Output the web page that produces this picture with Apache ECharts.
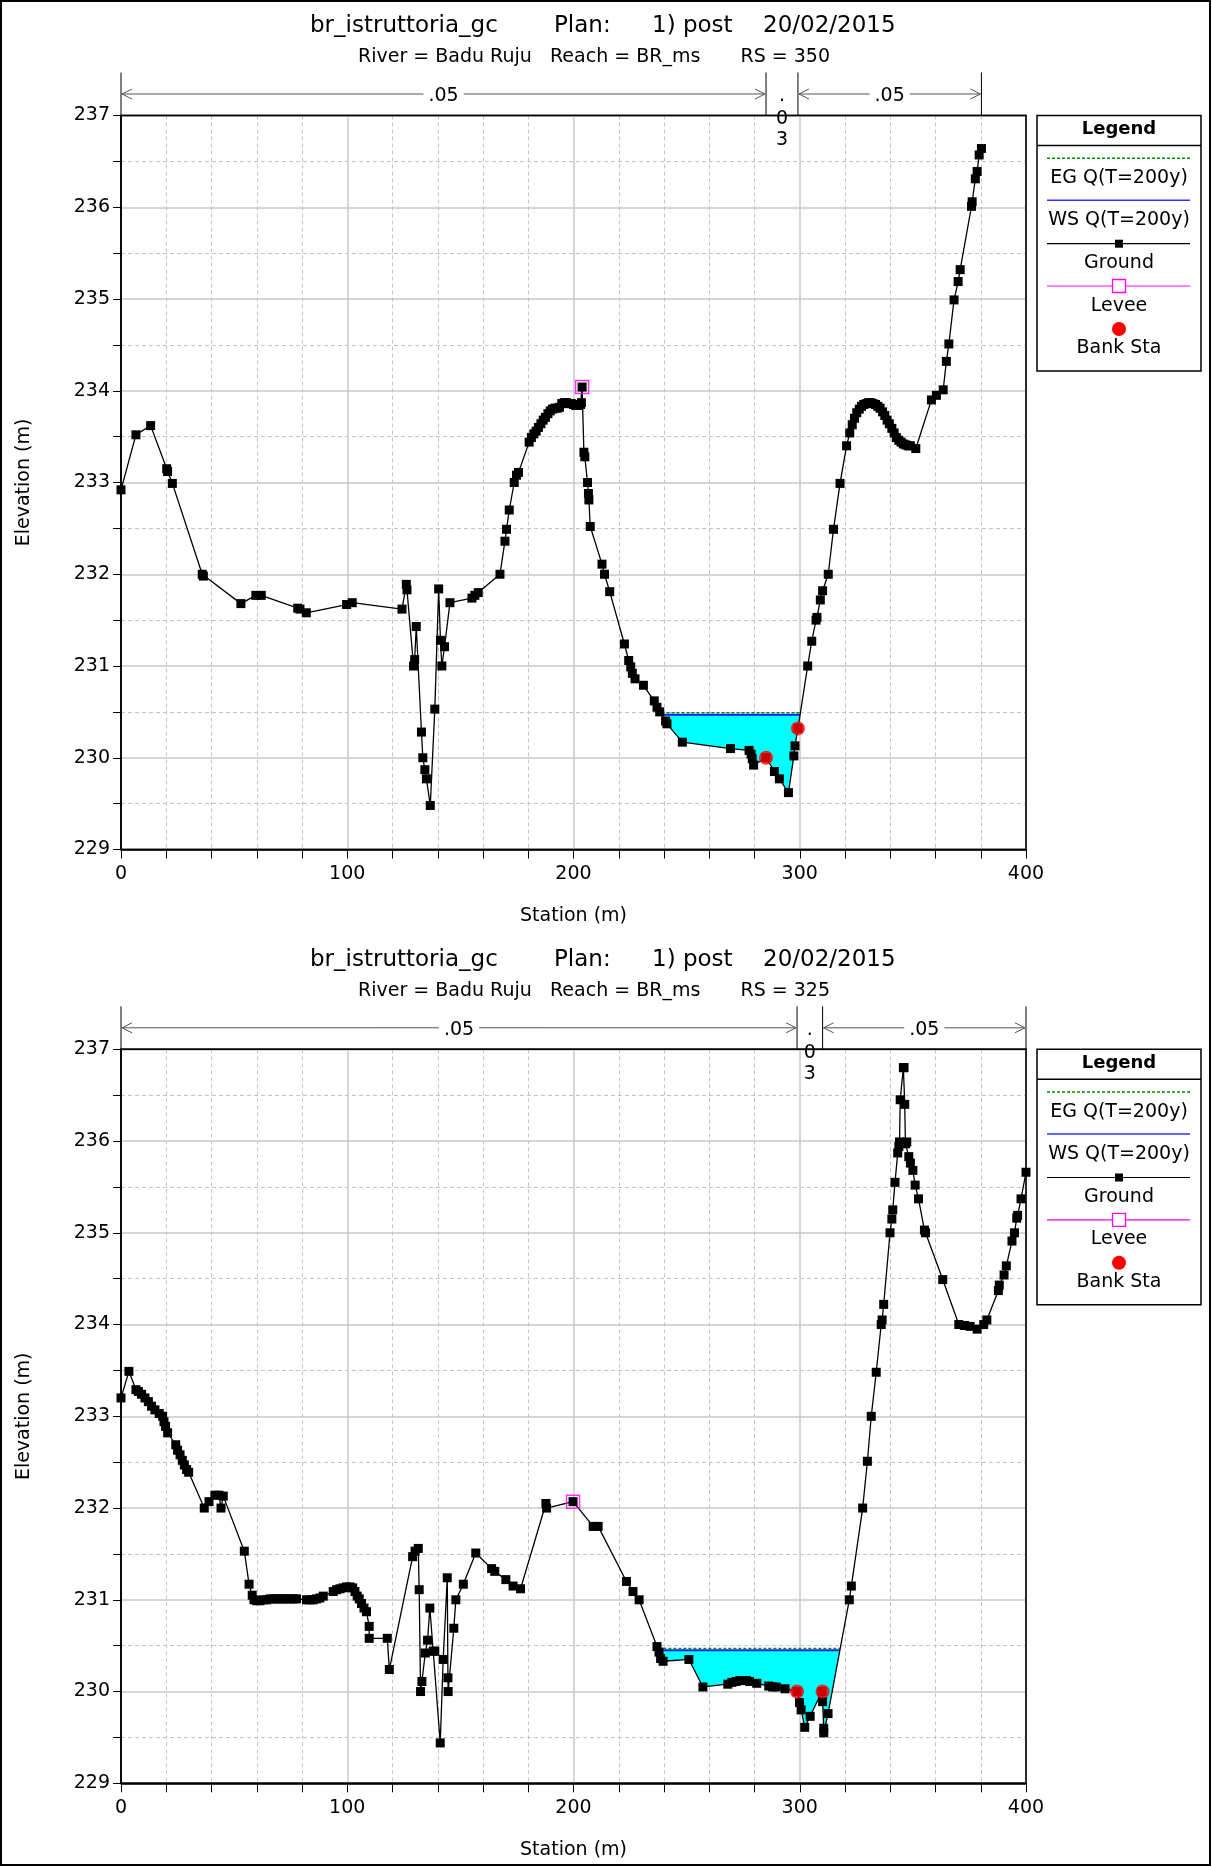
<!DOCTYPE html>
<html>
<head>
<meta charset="utf-8">
<script src="https://cdn.jsdelivr.net/npm/echarts@6/dist/echarts.min.js"></script>
<style>
html, body { margin: 0; padding: 0; background: #fff; }
#chart { width: 1212px; height: 1867px; }
</style>
</head>
<body>
<div id="chart"></div>
<script>
// ---------- Cross section RS 350 ----------
const rs350Station = [
  0.0, 6.6, 13.1, 20.2, 20.6, 22.7, 35.9, 36.4, 53.0, 59.6, 62.0, 78.1, 79.1, 81.9, 99.7, 102.2,
  124.2, 126.1, 126.4, 129.3, 129.8, 130.5, 132.8, 133.4, 134.3, 135.0, 136.7, 138.7, 140.4, 141.2,
  141.8, 143.0, 145.4, 155.1, 156.4, 157.9, 167.5, 169.7, 170.4, 171.6, 173.8, 174.8, 175.7,
  180.4, 181.4, 182.5, 183.5, 184.5, 185.6, 186.6, 187.6, 188.7, 189.7, 190.7, 191.8, 192.8, 193.8,
  194.8, 195.9, 196.9, 197.9, 199.0, 200.0, 201.0, 202.0, 203.1, 203.5, 203.8,
  204.6, 205.0, 206.2, 206.6, 206.8, 207.4, 212.6, 213.7, 216.0, 222.5, 224.4, 225.3, 226.0, 227.2,
  230.9, 235.7, 236.9, 238.1, 240.7, 241.3, 248.1, 269.4, 277.6, 278.5, 279.0, 279.6, 285.1, 288.8,
  291.0, 295.0, 297.4, 297.9, 299.2, 303.5, 305.3, 307.2, 307.6, 309.1, 310.1, 312.6, 314.9, 317.8,
  320.7, 322.1, 323.2, 324.2, 325.2, 326.3, 327.3, 328.3, 329.4, 330.4, 331.4, 332.4, 333.5, 334.5,
  335.5, 336.6, 337.6, 338.6, 339.6, 340.7, 341.7, 342.7, 343.8, 344.8, 345.8, 346.9, 347.9, 348.9,
  351.3, 358.2, 360.4, 363.4, 364.8, 365.9, 368.2, 370.0, 370.9, 375.9, 376.2, 377.6, 378.4, 379.3, 380.3
];
const rs350Elev = [
  232.92, 233.52, 233.62, 233.15, 233.12, 232.99, 232.00, 231.98, 231.68, 231.77, 231.77, 231.63, 231.62, 231.58, 231.67, 231.69,
  231.62, 231.89, 231.83, 231.00, 231.07, 231.43, 230.28, 230.00, 229.87, 229.77, 229.48, 230.53, 231.84, 231.28,
  231.00, 231.21, 231.69, 231.74, 231.77, 231.80, 232.00, 232.36, 232.49, 232.70, 233.00, 233.08, 233.11,
  233.44, 233.49, 233.53, 233.56, 233.60, 233.64, 233.68, 233.71, 233.75, 233.78, 233.80, 233.81, 233.81, 233.82,
  233.86, 233.87, 233.87, 233.86, 233.86, 233.85, 233.84, 233.84, 233.85, 233.87, 234.04,
  233.33, 233.28, 233.00, 232.88, 232.81, 232.52, 232.11, 232.00, 231.81, 231.24, 231.06, 230.99, 230.92, 230.86,
  230.79, 230.62, 230.55, 230.50, 230.40, 230.37, 230.17, 230.10, 230.08, 230.04, 229.99, 229.92, 230.00, 229.85,
  229.77, 229.62, 230.02, 230.13, 230.32, 231.00, 231.27, 231.50, 231.53, 231.72, 231.82, 232.00, 232.49, 232.99,
  233.40, 233.54, 233.63, 233.70, 233.76, 233.80, 233.83, 233.85, 233.86, 233.87, 233.87, 233.86, 233.85, 233.83,
  233.81, 233.77, 233.73, 233.68, 233.64, 233.59, 233.54, 233.49, 233.46, 233.44, 233.42, 233.41, 233.40, 233.40,
  233.37, 233.90, 233.95, 234.01, 234.32, 234.51, 234.99, 235.19, 235.32, 236.01, 236.06, 236.31, 236.39, 236.57, 236.64
];
const rs350Levee = [[203.8, 234.04]];
const rs350Banks = [[285.1, 230.00], [299.2, 230.32]];
const rs350WS = 230.47;
const rs350EG = 230.49;
const rs350N = ['.05', '.03', '.05'];

// ---------- Cross section RS 325 ----------
const rs325Station = [
  0.0, 3.5, 6.6, 7.7, 9.1, 10.6, 12.1, 13.5, 15.0, 16.9, 18.4, 19.0, 19.7, 20.6, 24.2, 25.0, 26.1, 27.1,
  28.0, 29.0, 29.9, 36.8, 38.9, 41.5, 43.3, 44.2, 45.2, 54.5, 56.6, 58.0, 58.8, 60.0, 61.5, 62.9, 64.4,
  65.9, 67.4, 68.8, 70.3, 71.8, 73.2, 74.7, 76.2, 77.6, 82.0, 83.5, 85.0, 86.4, 87.9, 89.4, 93.8, 95.3,
  96.8, 98.2, 99.7, 101.2, 102.4, 103.4, 104.4, 105.3, 106.3, 107.4, 108.5, 109.7, 109.7, 117.7, 118.6,
  128.9, 130.0, 131.4, 131.8, 132.4, 133.0, 134.5, 135.5, 136.5, 138.0, 138.7, 141.1, 142.4, 144.2, 144.5,
  144.6, 147.1, 148.0, 151.3, 156.8, 163.8, 165.2, 170.1, 173.3, 176.6, 187.8, 188.1, 199.8, 208.7, 210.9,
  223.4, 226.3, 229.0, 236.9, 237.8, 238.5, 239.6, 251.0, 257.2, 268.2, 270.0, 271.9, 273.5, 274.9, 276.4,
  277.8, 281.0, 286.3, 288.0, 289.6, 293.5, 298.8, 299.9, 300.6, 302.2, 304.6, 309.8, 310.1, 310.6, 310.6,
  312.5, 321.9, 322.8, 327.8, 329.9, 331.6, 333.8, 336.0, 336.4, 337.1, 339.9, 340.7, 341.1, 342.1, 343.3,
  343.8, 344.1, 344.4, 345.8, 346.1, 346.4, 346.7, 347.3, 348.2, 348.9, 350.0, 351.0, 352.5, 355.1, 355.6,
  363.2, 370.3, 372.8, 375.3, 378.4, 381.3, 382.7, 387.8, 388.2, 390.3, 391.3, 393.8, 394.9, 395.9, 396.3,
  397.8, 400.0
];
const rs325Elev = [
  233.20, 233.49, 233.29, 233.27, 233.24, 233.20, 233.16, 233.11, 233.07, 233.03, 233.00, 232.94, 232.89, 232.82, 232.69, 232.63, 232.58, 232.52,
  232.47, 232.42, 232.39, 232.00, 232.07, 232.14, 232.14, 232.00, 232.13, 231.53, 231.17, 231.05, 231.00, 230.99, 230.99, 231.00, 231.00,
  231.01, 231.01, 231.01, 231.01, 231.01, 231.01, 231.01, 231.01, 231.01, 231.00, 231.00, 231.00, 231.01, 231.02, 231.04, 231.09, 231.11,
  231.12, 231.13, 231.14, 231.14, 231.13, 231.09, 231.04, 231.01, 230.96, 230.91, 230.87, 230.71, 230.58, 230.58, 230.24,
  231.47, 231.53, 231.56, 231.11, 230.00, 230.11, 230.42, 230.56, 230.91, 230.44, 230.44, 229.44, 230.35, 231.24, 230.15,
  230.00, 230.69, 231.00, 231.17, 231.51, 231.34, 231.31, 231.22, 231.15, 231.12, 232.05, 232.00, 232.07, 231.80, 231.80,
  231.20, 231.09, 231.00, 230.49, 230.43, 230.36, 230.33, 230.35, 230.05, 230.08, 230.10, 230.11, 230.12, 230.12, 230.12,
  230.11, 230.09, 230.06, 230.05, 230.05, 230.03, 230.00, 229.88, 229.80, 229.61, 229.73, 230.00, 229.89, 229.60, 229.55,
  229.76, 231.00, 231.15, 232.00, 232.51, 233.00, 233.48, 234.00, 234.05, 234.22, 235.00, 235.15, 235.25, 235.55, 235.87,
  235.94, 235.99, 236.45, 236.80, 236.80, 236.40, 235.97, 235.99, 235.83, 235.76, 235.68, 235.52, 235.37, 235.03, 235.00,
  234.49, 234.00, 233.99, 233.98, 233.95, 234.00, 234.05, 234.37, 234.43, 234.54, 234.64, 234.91, 235.00, 235.16, 235.19,
  235.37, 235.66
];
const rs325Levee = [[199.8, 232.07]];
const rs325Banks = [[298.8, 230.00], [310.1, 230.00]];
const rs325WS = 230.45;
const rs325EG = 230.47;
const rs325N = ['.05', '.03', '.05'];

// ---------- shared text ----------
const projectName = 'br_istruttoria_gc';
const planLabel = 'Plan:';
const planName = '1) post';
const planDate = '20/02/2015';
const riverLabel = 'River = Badu Ruju';
const reachLabel = 'Reach = BR_ms';
const xAxisName = 'Station (m)';
const yAxisName = 'Elevation (m)';
const legendTitle = 'Legend';
const legendNames = ['EG Q(T=200y)', 'WS Q(T=200y)', 'Ground', 'Levee', 'Bank Sta'];
const xTicks = { min: 0, max: 400, step: 100 };
const yTicks = { min: 229, max: 237, step: 1 };

const sections = [
  { rs: '350', station: rs350Station, elev: rs350Elev, levee: rs350Levee, banks: rs350Banks, ws: rs350WS, eg: rs350EG, n: rs350N },
  { rs: '325', station: rs325Station, elev: rs325Elev, levee: rs325Levee, banks: rs325Banks, ws: rs325WS, eg: rs325EG, n: rs325N }
];

// ---------- layout ----------
const FONT = '"DejaVu Sans", sans-serif';
const plotLeft = 121, plotWidth = 905, plotHeight = 734;
const plotTops = [115.5, 1049.3];

const chart = echarts.init(document.getElementById('chart'), null, { renderer: 'canvas' });

// Wetted area: the ground between the two points where it crosses the water surface
function waterPolygon(st, el, banks, ws) {
  let k = -1;
  for (let i = 0; i < st.length; i++) {
    if (st[i] >= banks[0][0] && st[i] <= banks[1][0] && (k < 0 || el[i] < el[k])) k = i;
  }
  let a = k; while (a > 0 && el[a - 1] < ws) a--;
  let b = k; while (b < st.length - 1 && el[b + 1] < ws) b++;
  const cross = (i, j) => st[i] + (ws - el[i]) * (st[j] - st[i]) / (el[j] - el[i]);
  const xL = a > 0 ? cross(a - 1, a) : st[0];
  const xR = b < st.length - 1 ? cross(b, b + 1) : st[st.length - 1];
  const pts = [[xL, ws]];
  for (let i = a; i <= b; i++) pts.push([st[i], el[i]]);
  pts.push([xR, ws]);
  return pts;
}

const grid = [], xAxis = [], yAxis = [], series = [];
sections.forEach((s, gi) => {
  grid.push({ left: plotLeft, top: plotTops[gi], width: plotWidth, height: plotHeight, show: true,
    borderColor: '#000', borderWidth: 1.5, backgroundColor: '#fff' });
  xAxis.push({
    gridIndex: gi, type: 'value', min: xTicks.min, max: xTicks.max, interval: xTicks.step,
    name: xAxisName, nameLocation: 'middle', nameGap: 57,
    nameTextStyle: { fontSize: 19, color: '#000', fontFamily: FONT },
    axisLine: { onZero: false, lineStyle: { color: '#000', width: 1.5 } },
    axisTick: { length: 9, lineStyle: { color: '#000', width: 1 } },
    minorTick: { show: true, splitNumber: 5, length: 9, lineStyle: { color: '#000', width: 1 } },
    axisLabel: { fontSize: 19, color: '#000', margin: 15, fontFamily: FONT },
    splitLine: { show: true, lineStyle: { color: '#c8c8c8', width: 1.5 } },
    minorSplitLine: { show: true, lineStyle: { color: '#c4c4c4', width: 1, type: [4, 3] } }
  });
  yAxis.push({
    gridIndex: gi, type: 'value', min: yTicks.min, max: yTicks.max, interval: yTicks.step,
    name: yAxisName, nameLocation: 'middle', nameRotate: 90, nameGap: 87,
    nameTextStyle: { fontSize: 19, color: '#000', fontFamily: FONT },
    axisLine: { onZero: false, lineStyle: { color: '#000', width: 1.5 } },
    axisTick: { length: 8, lineStyle: { color: '#000', width: 1 } },
    minorTick: { show: true, splitNumber: 2, length: 8, lineStyle: { color: '#000', width: 1 } },
    axisLabel: { fontSize: 19, color: '#000', margin: 11, fontFamily: FONT },
    splitLine: { show: true, lineStyle: { color: '#c8c8c8', width: 1.5 } },
    minorSplitLine: { show: true, lineStyle: { color: '#c4c4c4', width: 1, type: [4, 3] } }
  });

  const poly = waterPolygon(s.station, s.elev, s.banks, s.ws);
  const xL = poly[0][0], xR = poly[poly.length - 1][0];
  const ground = s.station.map((x, i) => [x, s.elev[i]]);

  series.push({
    type: 'custom', name: 'water' + s.rs, xAxisIndex: gi, yAxisIndex: gi, coordinateSystem: 'cartesian2d',
    data: [poly[0]], silent: true, z: 1, clip: true,
    renderItem: (params, api) => ({
      type: 'polygon',
      shape: { points: poly.map(p => api.coord(p)) },
      style: { fill: '#00ffff', stroke: null }
    })
  });
  series.push({
    type: 'line', name: legendNames[1], xAxisIndex: gi, yAxisIndex: gi, z: 3, silent: true,
    data: [[xL, s.ws], [xR, s.ws]], showSymbol: false,
    lineStyle: { color: '#1a1aff', width: 2 }
  });
  series.push({
    type: 'line', name: legendNames[0], xAxisIndex: gi, yAxisIndex: gi, z: 4, silent: true,
    data: [[xL, s.eg], [xR, s.eg]], showSymbol: false,
    lineStyle: { color: '#009000', width: 1.5, type: [3, 2] }
  });
  series.push({
    type: 'line', name: legendNames[2], xAxisIndex: gi, yAxisIndex: gi, z: 5, silent: true,
    data: ground, symbol: 'rect', symbolSize: 9, showSymbol: true, showAllSymbol: true,
    itemStyle: { color: '#000' }, lineStyle: { color: '#000', width: 1.3 }
  });
  series.push({
    type: 'scatter', name: legendNames[3], xAxisIndex: gi, yAxisIndex: gi, z: 6, silent: true,
    data: s.levee, symbol: 'rect', symbolSize: 13,
    itemStyle: { color: 'rgba(0,0,0,0)', borderColor: '#ff00ff', borderWidth: 1.5 }
  });
  series.push({
    type: 'scatter', name: legendNames[4], xAxisIndex: gi, yAxisIndex: gi, z: 7, silent: true,
    data: s.banks, symbol: 'circle', symbolSize: 14,
    itemStyle: { color: '#ff0000' }
  });
});

chart.setOption({
  animation: false,
  backgroundColor: '#fff',
  textStyle: { fontFamily: FONT },
  grid, xAxis, yAxis, series
});

// ---------- annotations: titles, Manning's n bars, legends ----------
function txt(x, y, text, size, align, extra) {
  const st = Object.assign({
    text, font: size + 'px ' + FONT, fill: '#000',
    align: align || 'left', verticalAlign: 'middle',
    textAlign: align || 'left', textVerticalAlign: 'middle'
  }, extra || {});
  return { type: 'text', x, y, z: 100, silent: true, style: st };
}
function seg(x1, y1, x2, y2, stroke, width, dash) {
  return { type: 'line', z: 100, silent: true, shape: { x1, y1, x2, y2 },
    style: { stroke, lineWidth: width || 1, lineDash: dash || null } };
}

const g = [];
g.push({ type: 'rect', z: 120, silent: true, shape: { x: 1, y: 1, width: 1209, height: 1864 },
  style: { fill: 'none', stroke: '#000', lineWidth: 2 } });

sections.forEach((s, gi) => {
  const top = plotTops[gi];
  const P = (x, y) => chart.convertToPixel({ gridIndex: gi }, [x, y]);

  // black frame of the plot area, drawn over the grid lines at its edges
  g.push({ type: 'rect', z: 90, silent: true,
    shape: { x: plotLeft, y: top, width: plotWidth, height: plotHeight },
    style: { fill: 'none', stroke: '#000', lineWidth: 1.5 } });

  // titles
  const ty = top - 89.3, sy = top - 58.3;
  g.push(txt(310, ty, projectName, 23));
  g.push(txt(554, ty, planLabel, 23));
  g.push(txt(652, ty, planName, 23));
  g.push(txt(763, ty, planDate, 23));
  g.push(txt(358, sy, riverLabel, 19));
  g.push(txt(550, sy, reachLabel, 19));
  g.push(txt(740.5, sy, 'RS = ' + s.rs, 19));

  // Manning's n regions: ground extent split at the bank stations
  const breaks = [s.station[0], s.banks[0][0], s.banks[1][0], s.station[s.station.length - 1]];
  const bx = breaks.map(b => P(b, yTicks.max)[0]);
  const yA = top - 21.5;
  bx.forEach(x => g.push(seg(x, top - 43, x, top, '#000', 1)));
  for (let i = 0; i < 3; i++) {
    const x0 = bx[i], x1 = bx[i + 1], cx = (x0 + x1) / 2;
    if (x1 - x0 > 50) {
      g.push(seg(x0 + 1, yA, x1 - 1, yA, '#555', 1));
      g.push({ type: 'polyline', z: 100, silent: true,
        shape: { points: [[x0 + 11, yA - 5], [x0 + 1, yA], [x0 + 11, yA + 5]] },
        style: { stroke: '#555', fill: null, lineWidth: 1 } });
      g.push({ type: 'polyline', z: 100, silent: true,
        shape: { points: [[x1 - 11, yA - 5], [x1 - 1, yA], [x1 - 11, yA + 5]] },
        style: { stroke: '#555', fill: null, lineWidth: 1 } });
      g.push(txt(cx, top - 19, s.n[i], 19, 'center', { backgroundColor: '#fff', padding: [0, 5] }));
    } else {
      const chars = s.n[i].split('');
      const ys = [top - 19, top + 4, top + 25];
      chars.forEach((c, k) => g.push(txt(cx, ys[k], c, 19, 'center')));
    }
  }

  // legend box
  const lx = 1037, lw = 164, lh = 255.5, cx = 1119, l0 = 1047, l1 = 1190;
  g.push({ type: 'rect', z: 100, silent: true, shape: { x: lx, y: top, width: lw, height: lh },
    style: { fill: '#fff', stroke: '#000', lineWidth: 1.5 } });
  g.push(seg(lx, top + 30, lx + lw, top + 30, '#000', 1.5));
  g.push(txt(cx, top + 14, legendTitle, 18, 'center', { font: 'bold 18px ' + FONT }));
  g.push(seg(l0, top + 42.8, l1, top + 42.8, '#009000', 1.5, [3, 2]));
  g.push(txt(cx, top + 62.5, legendNames[0], 19, 'center'));
  g.push(seg(l0, top + 84.8, l1, top + 84.8, '#3030ff', 1.5));
  g.push(txt(cx, top + 104.5, legendNames[1], 19, 'center'));
  g.push(seg(l0, top + 128.2, l1, top + 128.2, '#000', 1.2));
  g.push({ type: 'rect', z: 101, silent: true, shape: { x: cx - 4, y: top + 124.2, width: 8, height: 8 }, style: { fill: '#000' } });
  g.push(txt(cx, top + 147.5, legendNames[2], 19, 'center'));
  g.push(seg(l0, top + 170.5, l1, top + 170.5, '#ff00ff', 1.2));
  g.push({ type: 'rect', z: 101, silent: true, shape: { x: cx - 6.5, y: top + 164, width: 13, height: 13 },
    style: { fill: '#fff', stroke: '#ff00ff', lineWidth: 1.3 } });
  g.push(txt(cx, top + 190.2, legendNames[3], 19, 'center'));
  g.push({ type: 'circle', z: 101, silent: true, shape: { cx, cy: top + 213.5, r: 7 }, style: { fill: '#ff0000' } });
  g.push(txt(cx, top + 232.5, legendNames[4], 19, 'center'));
});

chart.setOption({ graphic: { elements: g } });
</script>
</body>
</html>
